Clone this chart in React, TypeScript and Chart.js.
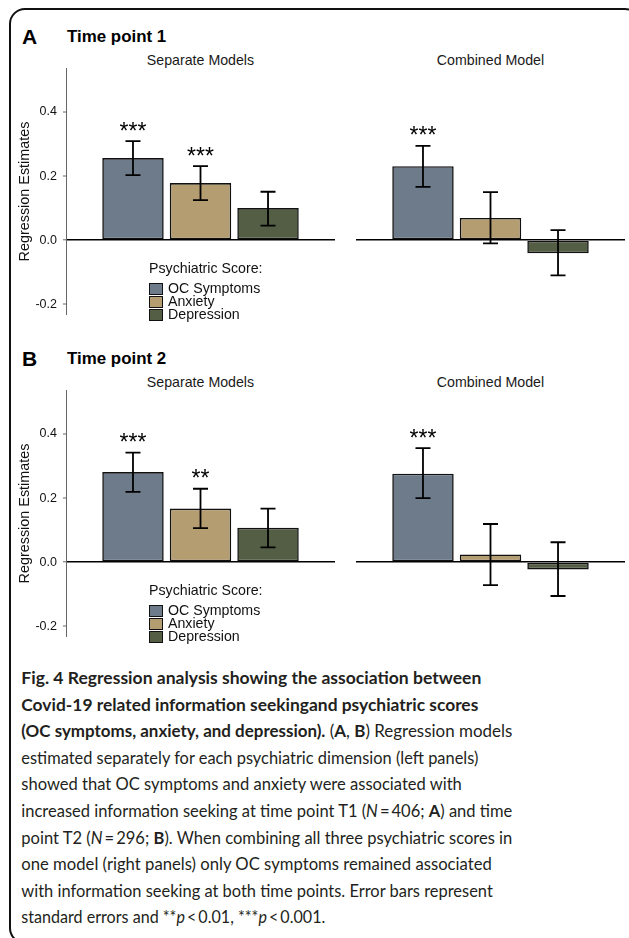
import React, { useEffect, useRef } from "react";
import { Chart, registerables } from "chart.js";

Chart.register(...registerables);

// ---------- data ----------
const scoreNames = ["OC Symptoms", "Anxiety", "Depression"];
const scoreColors = ["#6E7B8B", "#B59D72", "#545E45"];
const yTicks = [-0.2, 0, 0.2, 0.4];
const yMin = -0.234;
const yMax = 0.5375;

const t1SepEst = [0.256, 0.178, 0.1];
const t1SepLo = [0.203, 0.125, 0.045];
const t1SepHi = [0.309, 0.231, 0.151];
const t1SepStars = ["***", "***", ""];

const t1CombEst = [0.231, 0.069, -0.041];
const t1CombLo = [0.166, -0.01, -0.11];
const t1CombHi = [0.294, 0.15, 0.031];
const t1CombStars = ["***", "", ""];

const t2SepEst = [0.281, 0.167, 0.107];
const t2SepLo = [0.219, 0.106, 0.046];
const t2SepHi = [0.342, 0.229, 0.167];
const t2SepStars = ["***", "**", ""];

const t2CombEst = [0.276, 0.024, -0.023];
const t2CombLo = [0.2, -0.072, -0.106];
const t2CombHi = [0.356, 0.119, 0.062];
const t2CombStars = ["***", "", ""];

const panelLetters = ["A", "B"];
const panelTitles = ["Time point 1", "Time point 2"];
const facetTitles = ["Separate Models", "Combined Model"];
const legendTitle = "Psychiatric Score:";
const yAxisTitle = "Regression Estimates";

type Seg = { t: string; b?: boolean; i?: boolean };
const captionLines: Seg[][] = [
  [{ t: "Fig. 4 Regression analysis showing the association between", b: true }],
  [{ t: "Covid-19 related information seekingand psychiatric scores", b: true }],
  [
    { t: "(OC symptoms, anxiety, and depression).", b: true },
    { t: " (" },
    { t: "A", b: true },
    { t: ", " },
    { t: "B", b: true },
    { t: ") Regression models" },
  ],
  [{ t: "estimated separately for each psychiatric dimension (left panels)" }],
  [{ t: "showed that OC symptoms and anxiety were associated with" }],
  [
    { t: "increased information seeking at time point T1 (" },
    { t: "N", i: true },
    { t: "\u2009=\u2009406; " },
    { t: "A", b: true },
    { t: ") and time" },
  ],
  [
    { t: "point T2 (" },
    { t: "N", i: true },
    { t: "\u2009=\u2009296; " },
    { t: "B", b: true },
    { t: "). When combining all three psychiatric scores in" },
  ],
  [{ t: "one model (right panels) only OC symptoms remained associated" }],
  [{ t: "with information seeking at both time points. Error bars represent" }],
  [
    { t: "standard errors and **" },
    { t: "p", i: true },
    { t: "\u2009<\u20090.01, ***" },
    { t: "p", i: true },
    { t: "\u2009<\u20090.001." },
  ],
];
const captionWidths = [460, 457, 491, 457, 440.5, 491, 491, 470.5, 471.5, 304];

// ---------- styling ----------
const family = '"Liberation Sans", Arial, Helvetica, sans-serif';
const PANEL_DY = 322;

const errStarsPlugin = {
  id: "errStars",
  afterDatasetsDraw(chart: any, _args: any, opts: any) {
    const { ctx } = chart;
    const yScale = chart.scales.y;
    ctx.save();
    chart.data.datasets.forEach((_ds: any, i: number) => {
      const meta = chart.getDatasetMeta(i);
      const bar = meta.data[0];
      if (!bar) return;
      const x = bar.x;
      const yLo = yScale.getPixelForValue(opts.lo[i]);
      const yHi = yScale.getPixelForValue(opts.hi[i]);
      ctx.strokeStyle = "#000";
      ctx.lineWidth = 1.8;
      ctx.beginPath();
      ctx.moveTo(x, yLo);
      ctx.lineTo(x, yHi);
      ctx.moveTo(x - 7.5, yLo);
      ctx.lineTo(x + 7.5, yLo);
      ctx.moveTo(x - 7.5, yHi);
      ctx.lineTo(x + 7.5, yHi);
      ctx.stroke();
      const s = opts.stars[i];
      if (s) {
        ctx.fillStyle = "#000";
        ctx.font = `23px ${family}`;
        ctx.textAlign = "center";
        ctx.textBaseline = "alphabetic";
        ctx.fillText(s, x, yHi - 2.5);
      }
    });
    ctx.restore();
  },
};

type PanelProps = {
  est: number[];
  lo: number[];
  hi: number[];
  stars: string[];
  showAxis: boolean;
  left: number;
  top: number;
  width: number;
  height: number;
  padLeft: number;
};

function BarPanel(p: PanelProps) {
  const ref = useRef<HTMLCanvasElement>(null);
  useEffect(() => {
    const chart = new Chart(ref.current as HTMLCanvasElement, {
      type: "bar",
      data: {
        labels: [""],
        datasets: scoreNames.map((name, i) => ({
          label: name,
          data: [p.est[i]],
          backgroundColor: scoreColors[i],
          borderColor: "#111",
          borderWidth: 1.6,
          borderSkipped: false,
          categoryPercentage: 0.753,
          barPercentage: 0.91,
        })),
      },
      options: {
        animation: false,
        responsive: false,
        maintainAspectRatio: false,
        devicePixelRatio: 1,
        layout: { padding: { top: 5, bottom: 5, right: 5, left: p.padLeft } },
        plugins: {
          legend: { display: false },
          tooltip: { enabled: false },
          errStars: { lo: p.lo, hi: p.hi, stars: p.stars },
        } as any,
        scales: {
          x: { display: false },
          y: {
            min: yMin,
            max: yMax,
            afterBuildTicks: (s: any) => {
              s.ticks = yTicks.map((v) => ({ value: v }));
            },
            afterFit: (s: any) => {
              s.width = p.showAxis ? 66 : 0;
              s.paddingTop = 0;
              s.paddingBottom = 0;
            },
            ticks: {
              display: p.showAxis,
              callback: (v: any) => Number(v).toFixed(1),
              font: { family, size: 12.5 },
              color: "#111",
              padding: 6,
            },
            grid: {
              drawTicks: p.showAxis,
              tickLength: 3,
              tickColor: "#666",
              tickWidth: 1,
              color: (c: any) => (c.tick && c.tick.value === 0 ? "#000" : "rgba(0,0,0,0)"),
              lineWidth: (c: any) => (c.tick && c.tick.value === 0 ? 1.6 : 0),
            },
            border: { display: p.showAxis, color: "#666", width: 1 },
            title: {
              display: p.showAxis,
              text: yAxisTitle,
              font: { family, size: 14.4 },
              color: "#111",
              padding: { top: 16, bottom: 0 },
            },
          },
        },
      } as any,
      plugins: [errStarsPlugin as any],
    });
    return () => chart.destroy();
  }, []);
  return (
    <canvas
      ref={ref}
      width={p.width}
      height={p.height}
      style={{ position: "absolute", left: p.left, top: p.top, width: p.width, height: p.height }}
    />
  );
}

// text placed by its baseline (Liberation Sans metrics)
function T({
  x,
  y,
  size,
  children,
  bold,
  color,
  center,
}: {
  x: number;
  y: number;
  size: number;
  children: any;
  bold?: boolean;
  color?: string;
  center?: boolean;
}) {
  const top = y - 0.8465 * size;
  const style: any = {
    position: "absolute",
    top,
    fontFamily: family,
    fontSize: size,
    lineHeight: `${size}px`,
    fontWeight: bold ? 700 : 400,
    color: color || "#000",
    whiteSpace: "nowrap",
  };
  if (center) {
    style.left = x - 200;
    style.width = 400;
    style.textAlign = "center";
  } else {
    style.left = x;
  }
  return <div style={style}>{children}</div>;
}

function Legend({ dy }: { dy: number }) {
  const boxTops = [283, 296.2, 309.4];
  const baselines = [293, 306.2, 319.4];
  return (
    <>
      <T x={149} y={273 + dy} size={14.2} color="#111">
        {legendTitle}
      </T>
      {scoreNames.map((n, i) => (
        <React.Fragment key={n}>
          <div
            style={{
              position: "absolute",
              left: 149,
              top: boxTops[i] + dy,
              width: 13.5,
              height: 11.8,
              boxSizing: "border-box",
              border: "1.5px solid #111",
              background: scoreColors[i],
            }}
          />
          <T x={168} y={baselines[i] + dy} size={14.2} color="#111">
            {n}
          </T>
        </React.Fragment>
      ))}
    </>
  );
}

const panelData = [
  {
    sep: [t1SepEst, t1SepLo, t1SepHi, t1SepStars],
    comb: [t1CombEst, t1CombLo, t1CombHi, t1CombStars],
  },
  {
    sep: [t2SepEst, t2SepLo, t2SepHi, t2SepStars],
    comb: [t2CombEst, t2CombLo, t2CombHi, t2CombStars],
  },
];

export default function App() {
  const capTop = 645;
  const capBaselines = [684, 710.6, 737.2, 763.8, 790.4, 817, 843.6, 870.2, 896.8, 923.4];
  return (
    <div
      style={{
        position: "absolute",
        left: 0,
        top: 0,
        width: 629,
        height: 938,
        overflow: "hidden",
        background: "#fff",
      }}
    >
      <div
        style={{
          position: "absolute",
          left: 9,
          top: 7.5,
          width: 632,
          height: 936,
          boxSizing: "border-box",
          border: "2.5px solid #111",
          borderRadius: 16,
        }}
      />
      {panelData.map((pd, k) => {
        const dy = k * PANEL_DY;
        return (
          <React.Fragment key={k}>
            <T x={22} y={43.3 + dy} size={21} bold>
              {panelLetters[k]}
            </T>
            <T x={67} y={43.5 + dy} size={16.9} bold>
              {panelTitles[k]}
            </T>
            <T x={200.5} y={65.3 + dy} size={14.2} color="#1a1a1a" center>
              {facetTitles[0]}
            </T>
            <T x={490.5} y={65.3 + dy} size={14.2} color="#1a1a1a" center>
              {facetTitles[1]}
            </T>
            <BarPanel
              est={pd.sep[0] as number[]}
              lo={pd.sep[1] as number[]}
              hi={pd.sep[2] as number[]}
              stars={pd.sep[3] as string[]}
              showAxis={true}
              left={0}
              top={63 + dy}
              width={340}
              height={257}
              padLeft={0}
            />
            <BarPanel
              est={pd.comb[0] as number[]}
              lo={pd.comb[1] as number[]}
              hi={pd.comb[2] as number[]}
              stars={pd.comb[3] as string[]}
              showAxis={false}
              left={351}
              top={63 + dy}
              width={279}
              height={257}
              padLeft={5}
            />
            <Legend dy={dy} />
          </React.Fragment>
        );
      })}
      <svg
        width={629}
        height={938 - capTop}
        style={{ position: "absolute", left: 0, top: capTop }}
      >
        {captionLines.map((segs, li) => (
          <text
            key={li}
            x={21.3}
            y={capBaselines[li] - capTop}
            textLength={captionWidths[li]}
            lengthAdjust="spacingAndGlyphs"
            style={{ fontFamily: "Lato, 'Noto Sans', sans-serif", fontSize: 17.5 }}
            fill="#231F20"
          >
            {segs.map((s, si) => (
              <tspan
                key={si}
                fontWeight={s.b ? 700 : 400}
                fontStyle={s.i ? "italic" : "normal"}
              >
                {s.t}
              </tspan>
            ))}
          </text>
        ))}
      </svg>
    </div>
  );
}
